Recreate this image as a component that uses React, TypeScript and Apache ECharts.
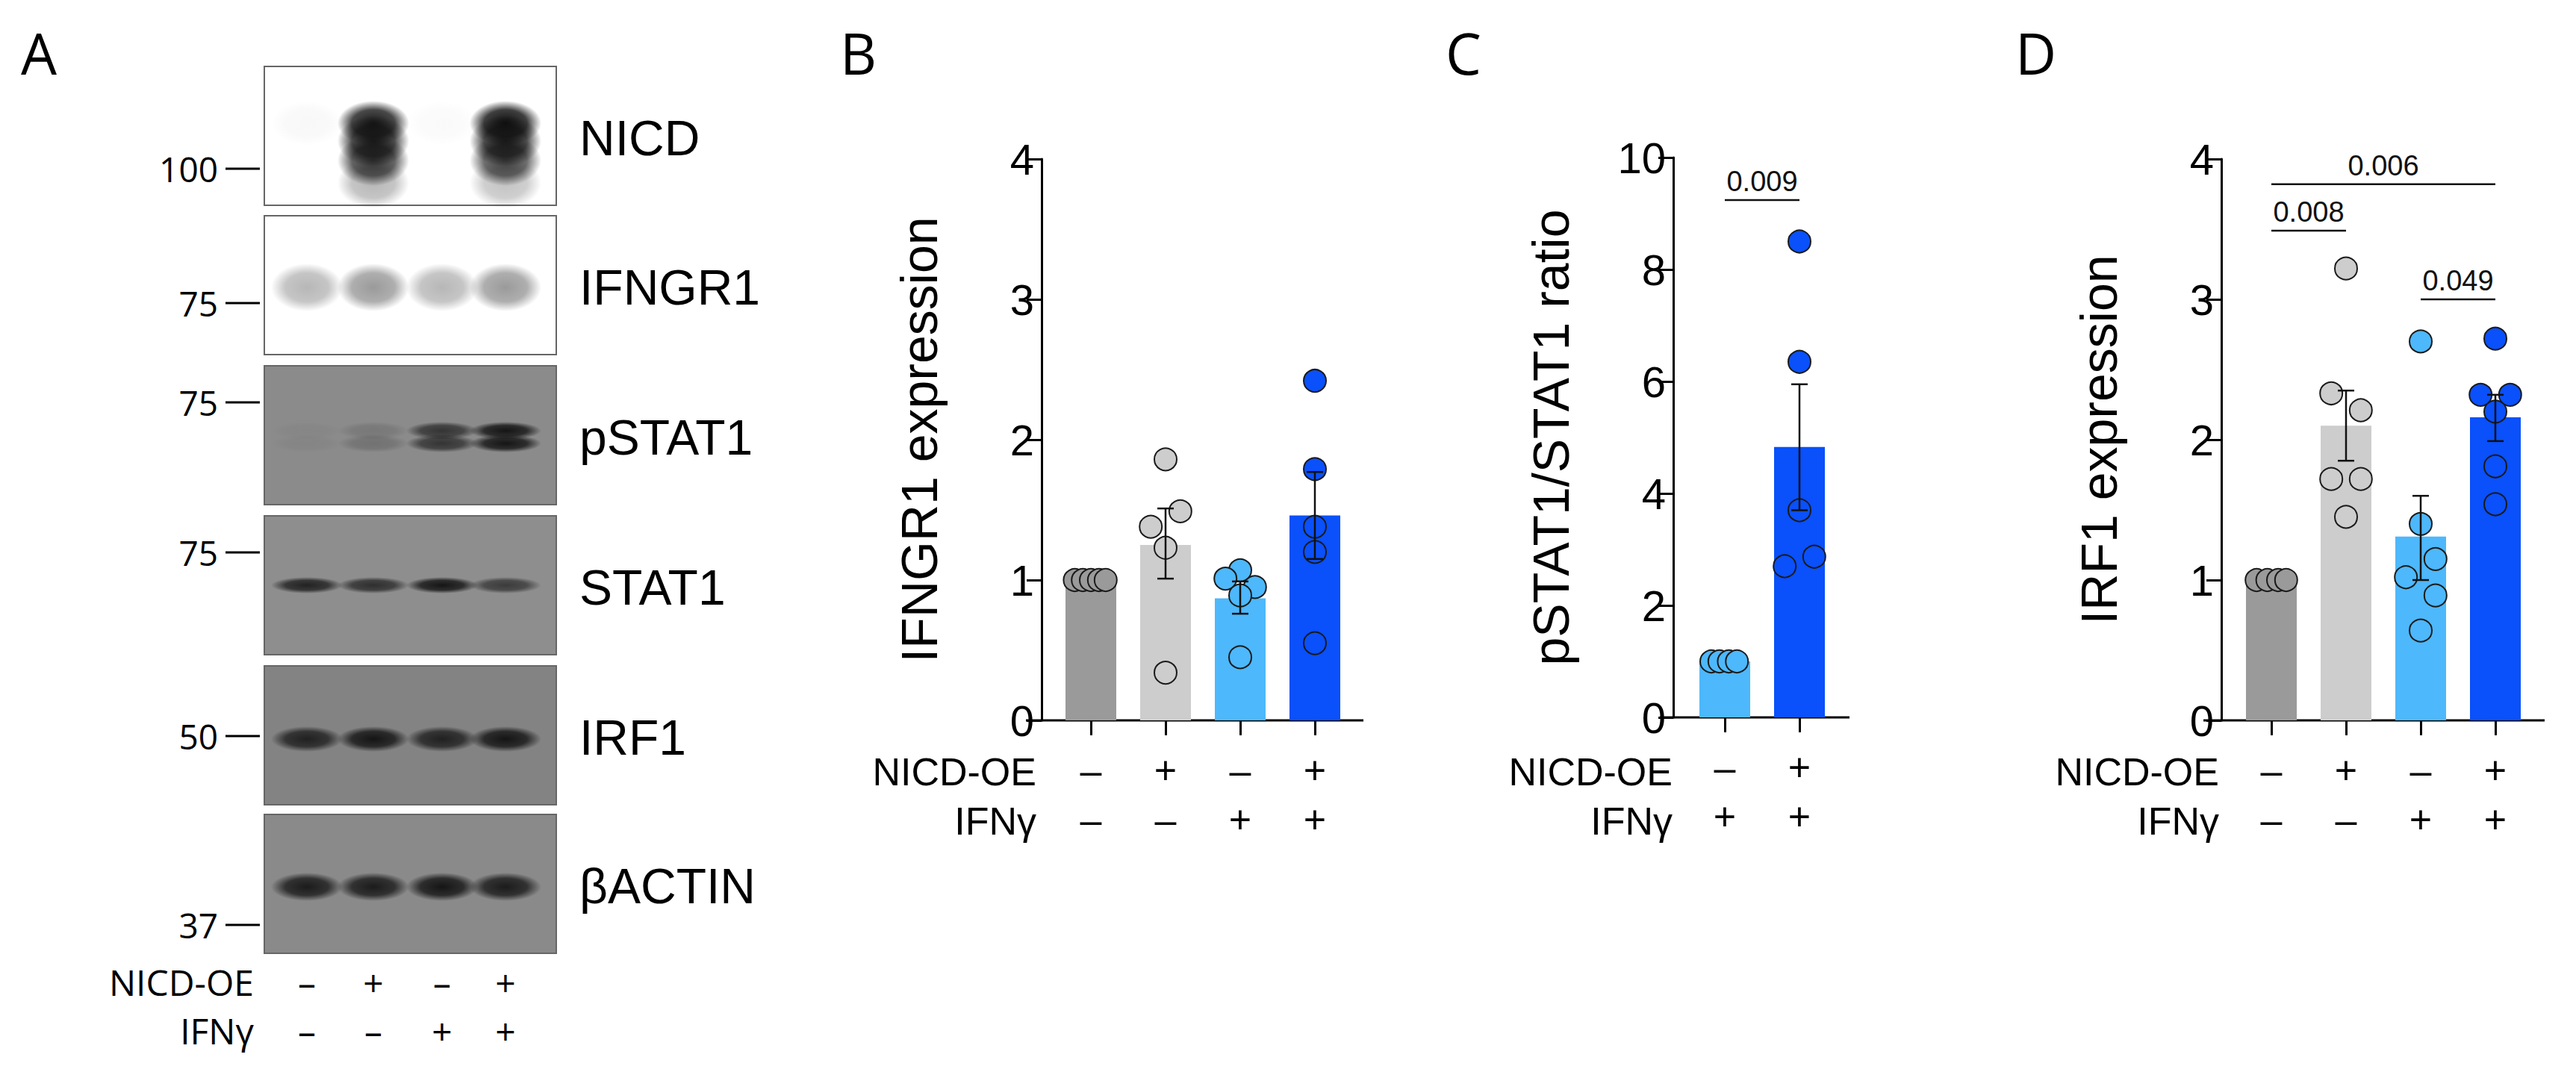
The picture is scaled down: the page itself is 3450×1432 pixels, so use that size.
import { useEffect, useRef } from 'react'
import * as echarts from 'echarts'

// ---------- data ----------
const fourGroups = ['–\n–', '+\n–', '–\n+', '+\n+']
const twoGroups = ['–\n+', '+\n+']

const fourColors = ['#9a9a9a', '#cdcdcd', '#4db8fb', '#0a50fb']
const twoColors = ['#4db8fb', '#0a50fb']

// B: IFNGR1 expression
const ifngr1Means = [1.0, 1.25, 0.87, 1.46]
const ifngr1Points = [
  [0, 1, -1.2], [0, 1, -0.6], [0, 1, 0], [0, 1, 0.6], [0, 1, 1.1],
  [1, 1.86, 0], [1, 1.49, 1.1], [1, 1.38, -1.1], [1, 1.23, 0], [1, 0.34, 0],
  [2, 1.07, 0], [2, 1.01, -1.1], [2, 0.95, 1.1], [2, 0.89, 0], [2, 0.45, 0],
  [3, 2.42, 0], [3, 1.79, 0], [3, 1.38, 0], [3, 1.2, 0], [3, 0.55, 0]
]
const ifngr1Err = [[1, 1.01, 1.51], [2, 0.76, 0.99], [3, 1.15, 1.77]]

// C: pSTAT1/STAT1 ratio
const ratioMeans = [1.0, 4.83]
const ratioPoints = [
  [0, 1, -1.0], [0, 1, -0.4], [0, 1, 0.3], [0, 1, 0.9],
  [1, 8.5, 0], [1, 6.35, 0], [1, 3.7, 0], [1, 2.87, 1.1], [1, 2.7, -1.1]
]
const ratioErr = [[1, 3.7, 5.95]]
const ratioSig = [[0, 1, 9.24]]
const ratioSigLabels = ['0.009']

// D: IRF1 expression
const irf1Means = [1.0, 2.1, 1.31, 2.16]
const irf1Points = [
  [0, 1, -1.1], [0, 1, -0.3], [0, 1, 0.5], [0, 1, 1.1],
  [1, 3.22, 0], [1, 2.33, -1.1], [1, 2.21, 1.1], [1, 1.72, -1.1], [1, 1.72, 1.1], [1, 1.45, 0],
  [2, 2.7, 0], [2, 1.4, 0], [2, 1.15, 1.1], [2, 1.02, -1.1], [2, 0.89, 1.1], [2, 0.64, 0],
  [3, 2.72, 0], [3, 2.32, -1.1], [3, 2.32, 1.1], [3, 2.2, 0], [3, 1.81, 0], [3, 1.54, 0]
]
const irf1Err = [[1, 1.85, 2.35], [2, 1.0, 1.6], [3, 1.99, 2.32]]
const irf1Sig = [[0, 3, 3.82], [0, 1, 3.49], [2, 3, 3.0]]
const irf1SigLabels = ['0.006', '0.008', '0.049']

// A: western blot
const blotNames = ['NICD', 'IFNGR1', 'pSTAT1', 'STAT1', 'IRF1', 'βACTIN']
const blotBackgrounds = ['#ffffff', '#ffffff', '#8b8b8b', '#8e8e8e', '#838383', '#8a8a8a']
// per row: band layers [offset in row, half height, lane intensities]
const blotBands: Array<Array<[number, number, number[]]>> = [
  [[76, 30, [0.03, 0.95, 0.02, 1]], [100, 34, [0, 0.9, 0, 0.9]], [126, 34, [0, 0.8, 0, 0.75]], [156, 34, [0, 0.3, 0, 0.25]]],
  [[96, 32, [0.3, 0.42, 0.3, 0.42]]],
  [[87, 12, [0.04, 0.15, 0.7, 0.95]], [104, 12, [0.05, 0.2, 0.7, 0.95]]],
  [[93, 11, [0.85, 0.75, 0.95, 0.65]]],
  [[98, 17, [0.85, 0.95, 0.85, 0.95]]],
  [[97, 19, [0.9, 0.9, 0.95, 0.9]]]
]
const mwLabels = ['100', '75', '75', '75', '50', '37']
const mwY = [226, 406, 539, 740, 986, 1239]
const laneNicd = ['–', '+', '–', '+']
const laneIfng = ['–', '–', '+', '+']

const FONT = 'Liberation Sans'
const OPEN = 'Open Sans'

function dotSeries(xi: number, yi: number, points: number[][], colors: string[]) {
  return {
    type: 'custom', xAxisIndex: xi, yAxisIndex: yi, z: 3,
    data: points,
    encode: { x: 0, y: 1 },
    renderItem: (_p: any, api: any) => {
      const c = api.coord([api.value(0), api.value(1)])
      return {
        type: 'circle',
        shape: { cx: c[0] + api.value(2) * 18, cy: c[1], r: 15 },
        style: { fill: colors[api.value(0)], stroke: '#1a1a1a', lineWidth: 2 }
      }
    }
  }
}

function errSeries(xi: number, yi: number, err: number[][]) {
  return {
    type: 'custom', xAxisIndex: xi, yAxisIndex: yi, z: 4,
    data: err,
    encode: { x: 0, y: [1, 2] },
    renderItem: (_p: any, api: any) => {
      const lo = api.coord([api.value(0), api.value(1)])
      const hi = api.coord([api.value(0), api.value(2)])
      const s = { stroke: '#111', lineWidth: 2.5 }
      return {
        type: 'group',
        children: [
          { type: 'line', shape: { x1: lo[0], y1: lo[1], x2: hi[0], y2: hi[1] }, style: s },
          { type: 'line', shape: { x1: lo[0] - 11, y1: lo[1], x2: lo[0] + 11, y2: lo[1] }, style: s },
          { type: 'line', shape: { x1: hi[0] - 11, y1: hi[1], x2: hi[0] + 11, y2: hi[1] }, style: s }
        ]
      }
    }
  }
}

function sigSeries(xi: number, yi: number, sig: number[][], labels: string[]) {
  return {
    type: 'custom', xAxisIndex: xi, yAxisIndex: yi, z: 5,
    data: sig,
    encode: { x: [0, 1], y: 2 },
    renderItem: (p: any, api: any) => {
      const a = api.coord([api.value(0), api.value(2)])
      const b = api.coord([api.value(1), api.value(2)])
      return {
        type: 'group',
        children: [
          { type: 'line', shape: { x1: a[0], y1: a[1], x2: b[0], y2: b[1] }, style: { stroke: '#111', lineWidth: 2.5 } },
          {
            type: 'text',
            style: {
              text: labels[p.dataIndex], x: (a[0] + b[0]) / 2, y: a[1] - 6,
              align: 'center', verticalAlign: 'bottom', fontSize: 38, fontFamily: FONT, fill: '#111'
            }
          }
        ]
      }
    }
  }
}

function barSeries(xi: number, yi: number, means: number[], colors: string[]) {
  return {
    type: 'bar', xAxisIndex: xi, yAxisIndex: yi, z: 2, barWidth: 68,
    data: means.map((v, i) => ({ value: v, itemStyle: { color: colors[i] } }))
  }
}

function yAxisOf(gi: number, max: number, interval: number, name: string, offset: number) {
  return {
    type: 'value', gridIndex: gi, min: 0, max, interval, offset,
    name, nameLocation: 'middle', nameGap: 130,
    nameTextStyle: { fontSize: 68, fontFamily: FONT, color: '#000' },
    axisLine: { show: true, lineStyle: { color: '#000', width: 3 } },
    axisTick: { show: true, length: 20, lineStyle: { color: '#000', width: 3 } },
    axisLabel: { fontSize: 58, fontFamily: FONT, color: '#000', margin: 10 },
    splitLine: { show: false }
  }
}

function xAxisOf(gi: number, cats: string[]) {
  return {
    type: 'category', gridIndex: gi, data: cats,
    axisLine: { show: false },
    axisTick: { show: true, alignWithLabel: true, length: 20, lineStyle: { color: '#000', width: 3 } },
    axisLabel: { fontSize: 52, fontFamily: FONT, color: '#000', lineHeight: 66, margin: 34 }
  }
}

function txt(x: number, y: number, text: string, size: number, align: string, family = FONT) {
  return {
    type: 'text', x, y,
    style: { text, fontSize: size, fontFamily: family, fill: '#000', align, verticalAlign: 'middle' }
  }
}

function hline(x1: number, x2: number, y: number, w = 3) {
  return { type: 'line', shape: { x1, y1: y, x2, y2: y }, style: { stroke: '#000', lineWidth: w } }
}

function blotGraphics() {
  const out: any[] = []
  const rowTop = [89, 289, 490, 691, 892, 1091]
  const laneX = [411, 500, 592, 677]
  blotNames.forEach((name, r) => {
    out.push({
      type: 'rect', shape: { x: 354, y: rowTop[r], width: 391, height: 186 },
      style: { fill: blotBackgrounds[r], stroke: '#666', lineWidth: 2 }
    })
    blotBands[r].forEach(([dy, ry, vals]) => {
      vals.forEach((k, j) => {
        if (k <= 0) return
        out.push({
          type: 'ellipse',
          shape: { cx: laneX[j], cy: rowTop[r] + dy, rx: 48, ry },
          style: {
            fill: new echarts.graphic.RadialGradient(0.5, 0.5, 0.5, [
              { offset: 0, color: `rgba(15,15,15,${k})` },
              { offset: 0.6, color: `rgba(15,15,15,${k * 0.8})` },
              { offset: 1, color: 'rgba(15,15,15,0)' }
            ])
          }
        })
      })
    })
    out.push(txt(776, rowTop[r] + 96, name, 66, 'left'))
  })
  mwLabels.forEach((m, i) => {
    out.push(txt(292, mwY[i], m, 46, 'right', OPEN))
    out.push(hline(302, 348, mwY[i], 3))
  })
  out.push(txt(340, 1315, 'NICD-OE', 48, 'right', OPEN))
  out.push(txt(340, 1380, 'IFNγ', 48, 'right', OPEN))
  laneX.forEach((x, j) => {
    out.push(txt(x, 1315, laneNicd[j], 48, 'center', OPEN))
    out.push(txt(x, 1380, laneIfng[j], 48, 'center', OPEN))
  })
  return out
}

export default function App() {
  const ref = useRef<HTMLDivElement>(null)

  useEffect(() => {
    document.body.style.margin = '0'
    const host = ref.current
    if (!host) return
    const chart = echarts.init(host, null, { renderer: 'svg' })

    const option: any = {
      animation: false,
      backgroundColor: '#ffffff',
      grid: [
        { left: 1411, width: 400, top: 213, height: 752 },
        { left: 2260, width: 200, top: 211, height: 750 },
        { left: 2992, width: 400, top: 213, height: 752 }
      ],
      xAxis: [xAxisOf(0, fourGroups), xAxisOf(1, twoGroups), xAxisOf(2, fourGroups)],
      yAxis: [
        yAxisOf(0, 4, 1, 'IFNGR1 expression', 16),
        yAxisOf(1, 10, 2, 'pSTAT1/STAT1 ratio', 19),
        yAxisOf(2, 4, 1, 'IRF1 expression', 17)
      ],
      series: [
        barSeries(0, 0, ifngr1Means, fourColors),
        dotSeries(0, 0, ifngr1Points, fourColors),
        errSeries(0, 0, ifngr1Err),
        barSeries(1, 1, ratioMeans, twoColors),
        dotSeries(1, 1, ratioPoints, twoColors),
        errSeries(1, 1, ratioErr),
        sigSeries(1, 1, ratioSig, ratioSigLabels),
        barSeries(2, 2, irf1Means, fourColors),
        dotSeries(2, 2, irf1Points, fourColors),
        errSeries(2, 2, irf1Err),
        sigSeries(2, 2, irf1Sig, irf1SigLabels)
      ],
      graphic: [
        txt(28, 70, 'A', 76, 'left', OPEN),
        txt(1125, 70, 'B', 76, 'left', OPEN),
        txt(1936, 70, 'C', 76, 'left', OPEN),
        txt(2699, 70, 'D', 76, 'left', OPEN),
        hline(1374, 1826, 965),
        hline(2223, 2477, 961),
        hline(2951, 3408, 965),
        txt(1388, 1034, 'NICD-OE', 52, 'right'),
        txt(1388, 1100, 'IFNγ', 52, 'right'),
        txt(2240, 1034, 'NICD-OE', 52, 'right'),
        txt(2240, 1100, 'IFNγ', 52, 'right'),
        txt(2972, 1034, 'NICD-OE', 52, 'right'),
        txt(2972, 1100, 'IFNγ', 52, 'right'),
        ...blotGraphics()
      ]
    }
    chart.setOption(option)
    return () => chart.dispose()
  }, [])

  return <div ref={ref} style={{ width: 3450, height: 1432 }} />
}
